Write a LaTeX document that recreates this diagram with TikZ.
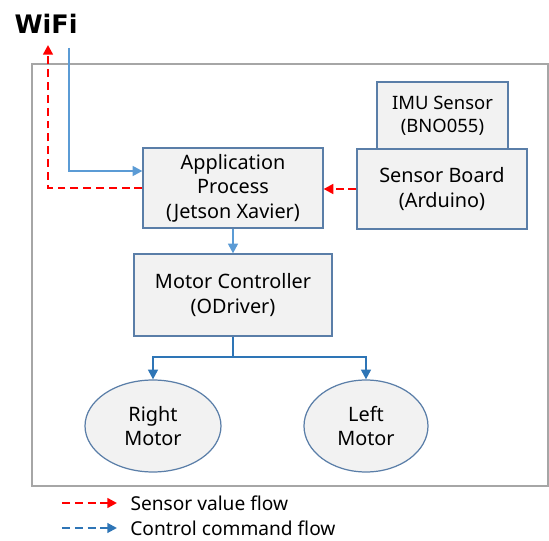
\documentclass[tikz,border=0pt]{standalone}
\usepackage{fontspec}
\setmainfont{Noto Sans}
\newfontfamily\wififont{DejaVu Sans}
\usetikzlibrary{arrows.meta,shapes.geometric,calc}

\definecolor{boxfill}{HTML}{F2F2F2}
\definecolor{boxline}{HTML}{5A7EA8}
\definecolor{lightblue}{HTML}{5B9BD5}
\definecolor{darkblue}{HTML}{2E75B6}
\definecolor{framegray}{HTML}{A6A6A6}

\tikzset{
  box/.style={draw=boxline, fill=boxfill, line width=0.7pt, align=center, inner sep=0pt,
    font=\fontsize{11.3}{14}\selectfont},
  motor/.style={ellipse, draw=boxline, fill=boxfill, line width=0.7pt, align=center, inner sep=0pt,
    font=\fontsize{11.3}{14}\selectfont},
  sensorflow/.style={red, line width=1.4pt, dash pattern=on 4.5pt off 2.8pt,
    -{Triangle[length=5.5pt,width=5.5pt]}},
  cmdflow/.style={lightblue, line width=1.2pt, -{Triangle[length=5.5pt,width=5.5pt]}},
  motorflow/.style={darkblue, line width=1.2pt, -{Triangle[length=5.5pt,width=5.5pt]}},
  legendtext/.style={anchor=west, inner sep=0pt, font=\fontsize{10.9}{12}\selectfont}
}

\begin{document}
\begin{tikzpicture}[x=0.02cm, y=-0.02cm]
\useasboundingbox (0,0) rectangle (549,541);
\draw[framegray, line width=0.6pt] (32,64) rectangle (548,486);

% wifi and outer corners
\node[font=\wififont\fontsize{14.5}{18}\selectfont\bfseries] (wifi) at (46,24) {WiFi};
\coordinate (wifiin) at (69,48); \coordinate (wifiout) at (48,45);
\coordinate (cornerin) at (69,171); \coordinate (cornerout) at (48,188);

% blocks
\node[box, minimum width=3.6cm, minimum height=1.6cm] (app) at (233,188) {Application\\Process\\(Jetson Xavier)};
\node[box, minimum width=2.62cm, minimum height=1.34cm, font=\fontsize{10.5}{13}\selectfont] (imu) at (442.5,115.5) {IMU Sensor\\(BNO055)};
\node[box, minimum width=3.4cm, minimum height=1.6cm] (sensor) at (442,189) {Sensor Board\\(Arduino)};
\node[box, minimum width=3.96cm, minimum height=1.64cm] (ctrl) at (233,295) {Motor Controller\\(ODriver)};
\node[motor, minimum width=2.72cm, minimum height=1.84cm] (right) at (153,426) {Right\\Motor};
\node[motor, minimum width=2.48cm, minimum height=1.84cm] (left) at (366,426) {Left\\Motor};
\coordinate (split) at (233,357);

% connectors
\draw[cmdflow] (wifiin) -- (cornerin) -- (app.west |- cornerin);
\draw[sensorflow] (app.west |- cornerout) -- (cornerout) -- (wifiout);
\draw[sensorflow] (sensor.west) -- (app.east |- sensor.west);
\draw[cmdflow] (app.south) -- (ctrl.north);
\draw[motorflow] (ctrl.south) -- (split) -| (right.north);
\draw[motorflow] (split) -| (left.north);

% legend
\coordinate (leg1) at (62,503); \coordinate (leg2) at (62,528);
\draw[sensorflow] (leg1) -- ++(55,0) node[legendtext, black, xshift=7pt] (legsensor) {Sensor value flow};
\draw[motorflow, dash pattern=on 4.5pt off 2.8pt] (leg2) -- ++(55,0) node[legendtext, black, xshift=7pt] (legcmd) {Control command flow};
\end{tikzpicture}
\end{document}
